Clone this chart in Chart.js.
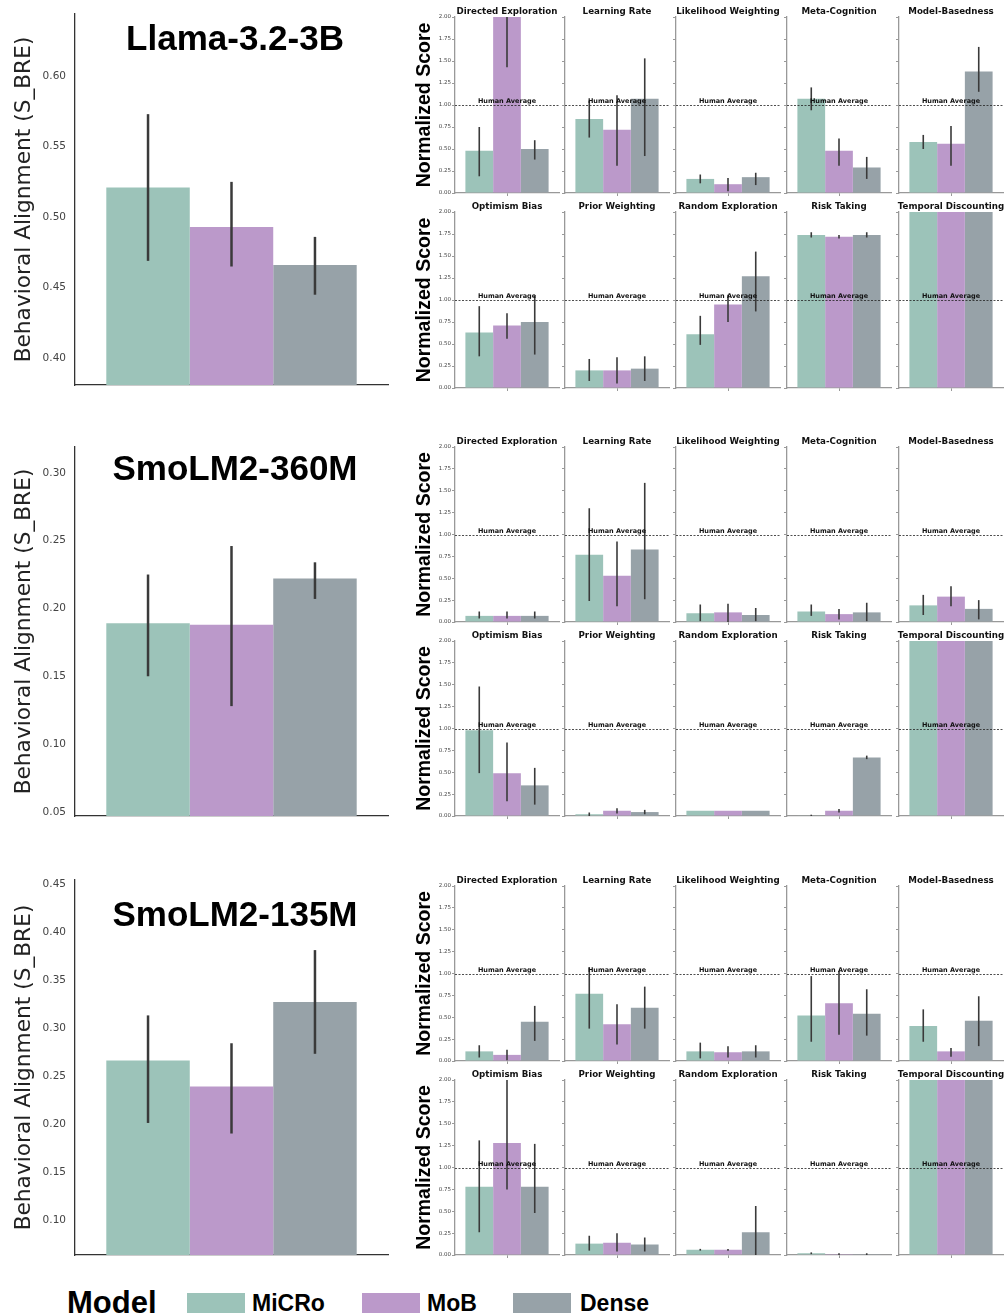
<!DOCTYPE html>
<html>
<head>
<meta charset="utf-8">
<script src="https://cdn.jsdelivr.net/npm/chart.js@4.4.1/dist/chart.umd.min.js"></script>
<style>
body { margin: 0; background: #fff; }
#fig { position: relative; width: 1005px; height: 1315px; overflow: hidden; background: #fff; }
#fig canvas { position: absolute; }
.leg { position: absolute; font-family: 'Liberation Sans', Arial, sans-serif; font-weight: bold; line-height: 1; white-space: nowrap; color: #000; }
.patch { position: absolute; }
</style>
</head>
<body>
<div id="fig"></div>
<script>
const models = ['MiCRo', 'MoB', 'Dense'];
const colors = ['#9cc3b9', '#bb99ca', '#97a2a8'];
const traits = ['Directed Exploration', 'Learning Rate', 'Likelihood Weighting', 'Meta-Cognition', 'Model-Basedness',
                'Optimism Bias', 'Prior Weighting', 'Random Exploration', 'Risk Taking', 'Temporal Discounting'];
const normTicks = [0, 0.25, 0.5, 0.75, 1.0, 1.25, 1.5, 1.75, 2.0];

// behavioral alignment (left panels), order: MiCRo, MoB, Dense
const llamaAlign = [0.521, 0.493, 0.466];
const llamaAlignLo = [0.469, 0.465, 0.445];
const llamaAlignHi = [0.573, 0.525, 0.486];
const llamaTicks = [0.40, 0.45, 0.50, 0.55, 0.60];

const smol360Align = [0.189, 0.188, 0.222];
const smol360AlignLo = [0.150, 0.128, 0.207];
const smol360AlignHi = [0.225, 0.246, 0.234];
const smol360Ticks = [0.05, 0.10, 0.15, 0.20, 0.25, 0.30];

const smol135Align = [0.266, 0.239, 0.327];
const smol135AlignLo = [0.201, 0.190, 0.273];
const smol135AlignHi = [0.313, 0.284, 0.381];
const smol135Ticks = [0.10, 0.15, 0.20, 0.25, 0.30, 0.35, 0.40, 0.45];

// normalized scores per trait (same order as traits)
const llamaMiCRo   = [0.48, 0.84, 0.16, 1.07, 0.58, 0.63, 0.20, 0.61, 1.74, 2.00];
const llamaMiCRoLo = [0.19, 0.63, 0.11, 0.94, 0.50, 0.36, 0.08, 0.49, 1.71, 2.00];
const llamaMiCRoHi = [0.75, 1.05, 0.21, 1.20, 0.66, 0.93, 0.33, 0.82, 1.77, 2.00];
const llamaMoB     = [2.00, 0.72, 0.10, 0.48, 0.56, 0.71, 0.20, 0.95, 1.72, 2.00];
const llamaMoBLo   = [1.43, 0.31, 0.02, 0.31, 0.31, 0.56, 0.05, 0.75, 1.70, 2.00];
const llamaMoBHi   = [2.60, 1.11, 0.17, 0.62, 0.76, 0.85, 0.35, 1.06, 1.74, 2.00];
const llamaDense   = [0.50, 1.07, 0.18, 0.29, 1.38, 0.75, 0.22, 1.27, 1.74, 2.00];
const llamaDenseLo = [0.38, 0.42, 0.09, 0.16, 1.15, 0.38, 0.08, 0.87, 1.71, 2.00];
const llamaDenseHi = [0.60, 1.53, 0.23, 0.41, 1.66, 1.05, 0.36, 1.55, 1.77, 2.00];

const smol360MiCRo   = [0.07, 0.77, 0.10, 0.12, 0.19, 0.98, 0.02, 0.06, 0.005, 2.00];
const smol360MiCRoLo = [0.04, 0.24, 0.01, 0.07, 0.08, 0.49, 0.00, 0.06, 0.000, 2.00];
const smol360MiCRoHi = [0.12, 1.30, 0.20, 0.20, 0.31, 1.48, 0.04, 0.06, 0.015, 2.00];
const smol360MoB     = [0.07, 0.53, 0.11, 0.09, 0.29, 0.49, 0.06, 0.06, 0.06, 2.00];
const smol360MoBLo   = [0.04, 0.18, 0.00, 0.03, 0.18, 0.17, 0.03, 0.06, 0.04, 2.00];
const smol360MoBHi   = [0.12, 0.92, 0.21, 0.15, 0.41, 0.84, 0.09, 0.06, 0.08, 2.00];
const smol360Dense   = [0.07, 0.83, 0.08, 0.11, 0.15, 0.35, 0.045, 0.06, 0.67, 2.00];
const smol360DenseLo = [0.04, 0.26, 0.01, 0.01, 0.03, 0.13, 0.02, 0.06, 0.65, 2.00];
const smol360DenseHi = [0.12, 1.59, 0.16, 0.22, 0.25, 0.55, 0.07, 0.06, 0.69, 2.00];

const smol135MiCRo   = [0.11, 0.77, 0.11, 0.52, 0.40, 0.78, 0.13, 0.06, 0.02, 2.00];
const smol135MiCRoLo = [0.04, 0.37, 0.03, 0.22, 0.22, 0.26, 0.05, 0.05, 0.01, 2.00];
const smol135MiCRoHi = [0.18, 1.07, 0.21, 0.97, 0.59, 1.31, 0.22, 0.07, 0.03, 2.00];
const smol135MoB     = [0.07, 0.42, 0.10, 0.66, 0.11, 1.28, 0.14, 0.06, 0.01, 2.00];
const smol135MoBLo   = [0.01, 0.19, 0.04, 0.30, 0.05, 0.75, 0.04, 0.05, 0.00, 2.00];
const smol135MoBHi   = [0.13, 0.65, 0.17, 1.03, 0.15, 2.10, 0.25, 0.07, 0.02, 2.00];
const smol135Dense   = [0.45, 0.61, 0.11, 0.54, 0.46, 0.78, 0.12, 0.26, 0.01, 2.00];
const smol135DenseLo = [0.23, 0.37, 0.04, 0.29, 0.17, 0.48, 0.04, 0.00, 0.00, 2.00];
const smol135DenseHi = [0.63, 0.85, 0.18, 0.82, 0.74, 1.27, 0.20, 0.56, 0.02, 2.00];

const fig = document.getElementById('fig');

// error bars, human average line and panel titles
const decor = {
    id: 'decor',
    afterDatasetsDraw(chart, args, opts) {
        const { ctx, chartArea: a, scales: { y } } = chart;
        ctx.save();
        ctx.beginPath();
        ctx.rect(a.left, a.top, a.right - a.left, a.bottom - a.top);
        ctx.clip();
        ctx.strokeStyle = '#3a3a3a';
        ctx.lineWidth = opts.errWidth || 1.5;
        chart.data.datasets.forEach((ds, i) => {
            chart.getDatasetMeta(i).data.forEach((bar, j) => {
                const lo = ds.errLo[j], hi = ds.errHi[j];
                if (hi - lo < 1e-6) return;
                ctx.beginPath();
                ctx.moveTo(bar.x, y.getPixelForValue(lo));
                ctx.lineTo(bar.x, y.getPixelForValue(hi));
                ctx.stroke();
            });
        });
        ctx.restore();

        if (opts.human) {
            const y1 = Math.round(y.getPixelForValue(1)) + 0.5;
            ctx.save();
            ctx.strokeStyle = '#222';
            ctx.lineWidth = 0.8;
            ctx.setLineDash([2, 1.5]);
            ctx.beginPath();
            ctx.moveTo(a.left, y1);
            ctx.lineTo(a.right, y1);
            ctx.stroke();
            ctx.setLineDash([]);
            ctx.fillStyle = '#111';
            ctx.font = 'bold 6.5px "DejaVu Sans"';
            ctx.textAlign = 'center';
            ctx.textBaseline = 'alphabetic';
            ctx.fillText('Human Average', (a.left + a.right) / 2, y1 - 2.5);
            ctx.restore();
        }
    },
    afterDraw(chart, args, opts) {
        if (!opts.title) return;
        const { ctx, chartArea: a } = chart;
        ctx.save();
        ctx.fillStyle = '#000';
        ctx.textAlign = 'center';
        ctx.textBaseline = 'alphabetic';
        if (opts.big) {
            ctx.font = 'bold 35px "Liberation Sans", Arial';
            ctx.fillText(opts.title, opts.titleX, a.top + opts.titleDy);
        } else {
            ctx.fillStyle = '#111';
            ctx.font = 'bold 8.7px "DejaVu Sans"';
            ctx.fillText(opts.title, (a.left + a.right) / 2, a.top - 3.5);
        }
        ctx.restore();
    }
};
Chart.register(decor);

function addCanvas(left, top, w, h) {
    const c = document.createElement('canvas');
    c.width = w;
    c.height = h;
    c.style.left = left + 'px';
    c.style.top = top + 'px';
    c.style.width = w + 'px';
    c.style.height = h + 'px';
    fig.appendChild(c);
    return c;
}

function alignChart(plotTop, plotBottom, yMin, yMax, tickVals, vals, lo, hi, title, titleDy) {
    const padTop = 24, padBottom = 22;
    const canvas = addCanvas(0, plotTop - padTop, 389, plotBottom - plotTop + padTop + padBottom);
    new Chart(canvas, {
        type: 'bar',
        data: {
            labels: [''],
            datasets: models.map((m, k) => ({
                label: m,
                data: [vals[k]],
                errLo: [lo[k]],
                errHi: [hi[k]],
                backgroundColor: colors[k],
                borderWidth: 0,
                categoryPercentage: 0.8,
                barPercentage: 1.0
            }))
        },
        options: {
            responsive: false,
            animation: false,
            events: [],
            layout: { padding: { top: padTop, right: 1, bottom: padBottom, left: 0 } },
            scales: {
                x: {
                    afterFit: s => { s.height = 0; },
                    grid: { display: false, drawTicks: false },
                    border: { display: true, color: '#333', width: 1.3 },
                    ticks: { display: false }
                },
                y: {
                    min: yMin,
                    max: yMax,
                    afterBuildTicks: s => { s.ticks = tickVals.map(v => ({ value: v })); },
                    afterFit: s => { s.width = 75; },
                    grid: { display: false, drawTicks: false },
                    border: { display: true, color: '#333', width: 1.3 },
                    ticks: {
                        font: { family: 'DejaVu Sans', size: 10.5 },
                        color: '#444',
                        padding: 9,
                        callback: v => v.toFixed(2)
                    },
                    title: {
                        display: true,
                        text: 'Behavioral Alignment (S_BRE)',
                        font: { family: 'DejaVu Sans', size: 21.7, lineHeight: 1.2 },
                        color: '#222',
                        padding: { top: 11, bottom: 0 }
                    }
                }
            },
            plugins: {
                legend: { display: false },
                tooltip: { enabled: false },
                decor: { errWidth: 2.5, title: title, big: true, titleX: 235, titleDy: titleDy }
            }
        }
    });
}

function traitChart(axisX, plotTop, plotH, t, vals, lo, hi, first) {
    const padTop = 16, xH = 6, padBottom = 2;
    const canvas = addCanvas(axisX - 40, plotTop - padTop, 146, padTop + plotH + xH + padBottom);
    new Chart(canvas, {
        type: 'bar',
        data: {
            labels: [''],
            datasets: models.map((m, k) => ({
                label: m,
                data: [vals[k][t]],
                errLo: [lo[k][t]],
                errHi: [hi[k][t]],
                backgroundColor: colors[k],
                borderWidth: 0,
                categoryPercentage: 0.8,
                barPercentage: 1.0
            }))
        },
        options: {
            responsive: false,
            animation: false,
            events: [],
            layout: { padding: { top: padTop, right: 2, bottom: padBottom, left: 0 } },
            scales: {
                x: {
                    afterFit: s => { s.height = xH; },
                    grid: { display: true, offset: false, drawOnChartArea: false, drawTicks: true, tickLength: 3, color: '#999' },
                    border: { display: true, color: '#999', width: 1.3 },
                    ticks: { display: false }
                },
                y: {
                    min: 0,
                    max: 2,
                    afterBuildTicks: s => { s.ticks = normTicks.map(v => ({ value: v })); },
                    afterFit: s => { s.width = 40; },
                    grid: { display: true, drawOnChartArea: false, drawTicks: true, tickLength: 3, color: '#999' },
                    border: { display: true, color: '#999', width: 1.3 },
                    ticks: {
                        display: first,
                        font: { family: 'DejaVu Sans', size: 5.5 },
                        color: '#444',
                        padding: 1,
                        callback: v => v.toFixed(2)
                    },
                    title: {
                        display: first,
                        text: 'Normalized Score',
                        font: { family: 'Liberation Sans', weight: 'bold', size: 19.5, lineHeight: 1 },
                        color: '#000',
                        padding: { top: 0, bottom: 0 }
                    }
                }
            },
            plugins: {
                legend: { display: false },
                tooltip: { enabled: false },
                decor: { errWidth: 1.6, human: true, title: traits[t] }
            }
        }
    });
}

const colX = [455, 565, 676, 787, 899];

function traitGrid(topA, topB, plotH, vals, lo, hi) {
    for (let t = 0; t < traits.length; t++) {
        const row = Math.floor(t / 5), col = t % 5;
        traitChart(colX[col], row === 0 ? topA : topB, plotH, t, vals, lo, hi, col === 0);
    }
}

// Llama-3.2-3B
alignChart(14, 385, 0.381, 0.644, llamaTicks, llamaAlign, llamaAlignLo, llamaAlignHi, 'Llama-3.2-3B', 36);
traitGrid(17, 212, 176,
    [llamaMiCRo, llamaMoB, llamaDense], [llamaMiCRoLo, llamaMoBLo, llamaDenseLo], [llamaMiCRoHi, llamaMoBHi, llamaDenseHi]);

// SmoLM2-360M
alignChart(447, 816, 0.047, 0.319, smol360Ticks, smol360Align, smol360AlignLo, smol360AlignHi, 'SmoLM2-360M', 33);
traitGrid(447, 641, 175,
    [smol360MiCRo, smol360MoB, smol360Dense], [smol360MiCRoLo, smol360MoBLo, smol360DenseLo], [smol360MiCRoHi, smol360MoBHi, smol360DenseHi]);

// SmoLM2-135M
alignChart(880, 1255, 0.0635, 0.454, smol135Ticks, smol135Align, smol135AlignLo, smol135AlignHi, 'SmoLM2-135M', 46);
traitGrid(886, 1080, 175,
    [smol135MiCRo, smol135MoB, smol135Dense], [smol135MiCRoLo, smol135MoBLo, smol135DenseLo], [smol135MiCRoHi, smol135MoBHi, smol135DenseHi]);

// legend
function legendText(text, left, baseline, size) {
    const d = document.createElement('div');
    d.className = 'leg';
    d.textContent = text;
    d.style.fontSize = size + 'px';
    d.style.left = left + 'px';
    d.style.top = (baseline - 0.8465 * size) + 'px';
    fig.appendChild(d);
}
legendText('Model', 67, 1313, 31);
const patchX = [187, 362, 513];
const labelX = [252, 427, 580];
models.forEach((m, k) => {
    const p = document.createElement('div');
    p.className = 'patch';
    p.style.left = patchX[k] + 'px';
    p.style.top = '1293px';
    p.style.width = '58px';
    p.style.height = '20px';
    p.style.background = colors[k];
    fig.appendChild(p);
    legendText(m, labelX[k], 1311, 23);
});
</script>
</body>
</html>
